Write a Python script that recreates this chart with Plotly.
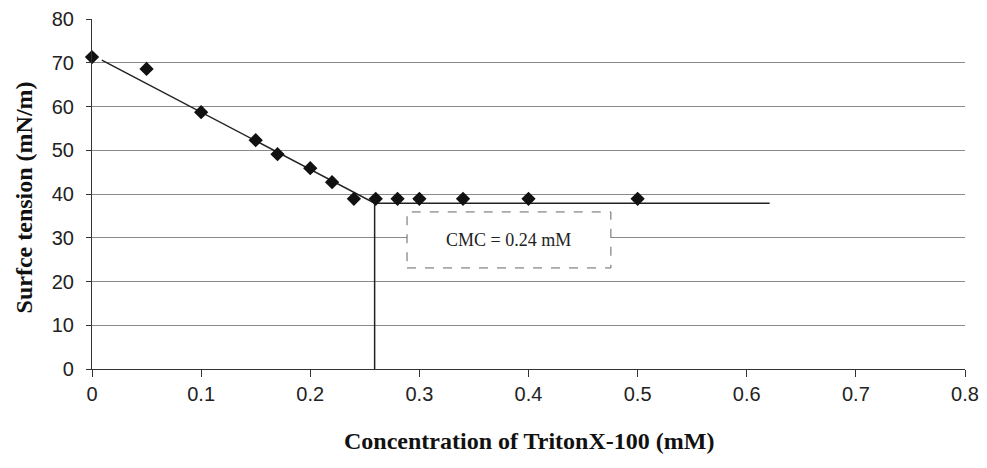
import plotly.graph_objects as go

conc = [0, 0.05, 0.1, 0.15, 0.17, 0.2, 0.22, 0.24, 0.26, 0.28, 0.30, 0.34, 0.40, 0.50]
tension = [71.3, 68.6, 58.7, 52.3, 49.1, 45.9, 42.7, 38.9, 38.9, 38.9, 38.9, 38.9, 38.9, 38.9]

fit_x = [0.009, 0.259, 0.621]
fit_y = [70.6, 37.9, 37.9]
cmc_x = [0.259, 0.259]
cmc_y = [37.9, 0]

x_ticks = [0, 0.1, 0.2, 0.3, 0.4, 0.5, 0.6, 0.7, 0.8]
x_labels = ["0", "0.1", "0.2", "0.3", "0.4", "0.5", "0.6", "0.7", "0.8"]
y_ticks = [0, 10, 20, 30, 40, 50, 60, 70, 80]

fig = go.Figure()
fig.add_trace(go.Scatter(x=fit_x, y=fit_y, mode="lines",
                         line=dict(color="#222222", width=1.5), showlegend=False))
fig.add_trace(go.Scatter(x=cmc_x, y=cmc_y, mode="lines",
                         line=dict(color="#222222", width=1.5), showlegend=False))
fig.add_trace(go.Scatter(x=conc, y=tension, mode="markers",
                         marker=dict(symbol="diamond", size=11, color="#111111"),
                         showlegend=False, cliponaxis=False))

fig.add_shape(type="rect", x0=0.2887, x1=0.4755, y0=23.1, y1=35.9,
              line=dict(color="#666666", width=1, dash="dash"),
              fillcolor="white", layer="above")
fig.add_annotation(x=(0.2887 + 0.4755) / 2, y=29.5, text="CMC = 0.24 mM",
                   showarrow=False,
                   font=dict(family="Liberation Serif", size=18, color="#222222"))

# axis titles
fig.add_annotation(xref="paper", yref="paper", x=0.5, y=-0.205, yanchor="middle",
                   text="<b>Concentration of TritonX-100 (mM)</b>", showarrow=False,
                   font=dict(family="Liberation Serif", size=24, color="#111111"))
fig.add_annotation(xref="paper", yref="paper", x=-0.078, xanchor="center", y=0.49,
                   yanchor="middle", textangle=-90,
                   text="<b>Surfce tension (mN/m)</b>", showarrow=False,
                   font=dict(family="Liberation Serif", size=24, color="#111111"))

fig.update_layout(
    width=987, height=468,
    margin=dict(l=92, r=22, t=19, b=99),
    plot_bgcolor="white", paper_bgcolor="white",
    xaxis=dict(range=[0, 0.8], tickvals=x_ticks, ticktext=x_labels,
               automargin=False,
               showgrid=False, zeroline=False, showline=True,
               linecolor="#333333", linewidth=1.2,
               ticks="outside", ticklen=7, tickcolor="#333333",
               tickfont=dict(family="Liberation Sans", size=20, color="#222222")),
    yaxis=dict(range=[0, 80], tickvals=y_ticks, automargin=False,
               showgrid=True, gridcolor="#8a8a8a", gridwidth=1,
               zeroline=False, showline=True,
               linecolor="#333333", linewidth=1.2,
               ticks="outside", ticklen=5, tickcolor="#333333",
               ticklabelstandoff=8,
               tickfont=dict(family="Liberation Sans", size=20, color="#222222")),
)

fig.write_html("out.html", config={"displayModeBar": False},
               post_script="document.body.style.margin='0';document.body.style.overflow='hidden';")
